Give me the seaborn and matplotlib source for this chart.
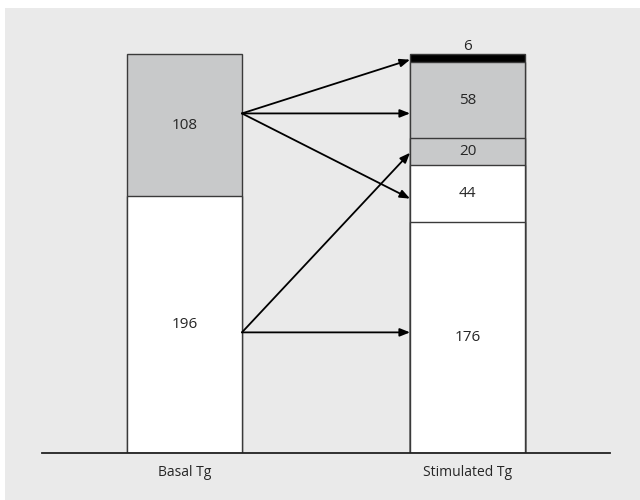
import pandas as pd
import seaborn as sns
import matplotlib.pyplot as plt
from matplotlib.patches import Rectangle

# Segment values, bottom to top
categories = ['Basal Tg', 'Stimulated Tg']
basal_values = [196, 108]
basal_colors = ['white', '#c8c9ca']
stim_values = [176, 44, 20, 58, 6]
stim_colors = ['white', 'white', '#c8c9ca', '#c8c9ca', 'black']

# Arrows: (start value on basal bar, end value on stimulated bar)
arrow_start = [259, 259, 259, 92, 92]
arrow_end = [300, 259, 194, 229, 92]

sns.set_theme(style='white')
plt.rcParams['font.family'] = ['Open Sans', 'DejaVu Sans']

fig = plt.figure(figsize=(6.4, 5), dpi=100)
fig.patch.set_facecolor('white')
# grey panel behind the chart
fig.patches.append(Rectangle((5 / 640, 0), 1, 1 - 8 / 500, transform=fig.transFigure,
                             facecolor='#eaeaea', edgecolor='none', zorder=-10))

ax = fig.add_axes([42 / 640, 47 / 500, 568 / 640, 413 / 500])
ax.set_zorder(1)
ax.patch.set_alpha(0)

# Build cumulative tops so each layer can be drawn as a full bar, tallest first
rows = []
for cat, vals, cols in [(categories[0], basal_values, basal_colors),
                        (categories[1], stim_values, stim_colors)]:
    total = 0
    for i, (v, c) in enumerate(zip(vals, cols)):
        rows.append({'cat': cat, 'layer': i, 'bottom': total, 'top': total + v,
                     'value': v, 'color': c})
        total += v
df = pd.DataFrame(rows)

bar_w = 0.406
for layer in sorted(df['layer'].unique(), reverse=True):
    sub = df[df['layer'] == layer]
    for _, r in sub.iterrows():
        sns.barplot(x=[r['cat']], y=[r['top']], order=categories, color=r['color'],
                    saturation=1, width=bar_w, edgecolor='#3a3a3a', linewidth=1,
                    errorbar=None, ax=ax)

# value labels
for _, r in df.iterrows():
    xpos = categories.index(r['cat'])
    if r['value'] < 10:
        ax.text(xpos, r['top'] + 0.5, str(r['value']), ha='center', va='bottom', fontsize=11)
    else:
        ax.text(xpos, (r['bottom'] + r['top']) / 2, str(r['value']), ha='center',
                va='center', fontsize=11)

# arrows between the bars
for s, e in zip(arrow_start, arrow_end):
    ax.annotate('', xy=(1 - bar_w / 2, e), xytext=(bar_w / 2, s),
                arrowprops=dict(arrowstyle='-|>,head_length=0.5,head_width=0.2',
                                color='black', lw=1.3, shrinkA=0, shrinkB=0))

ax.set_xlim(-0.5035, 1.5035)
ax.set_ylim(0, 315)
ax.set_xlabel('')
ax.set_ylabel('')
ax.set_yticks([])
ax.tick_params(axis='x', length=0, labelsize=10, pad=9)
sns.despine(ax=ax, left=True)
ax.spines['bottom'].set_color('#222222')
ax.spines['bottom'].set_linewidth(1.3)

plt.savefig('out.png', dpi=100)
